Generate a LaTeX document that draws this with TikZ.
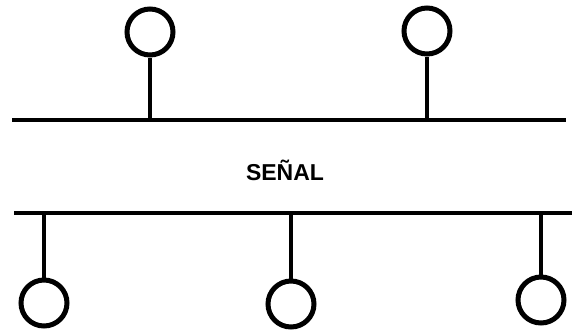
\documentclass[tikz,border=0pt]{standalone}
\usepackage{fontspec}
\setmainfont{Liberation Sans}
\begin{document}
\begin{tikzpicture}[x=1pt, y=-1pt, line width=4.5pt]
\tikzset{station/.style={circle, draw, line width=5pt, minimum size=46pt, inner sep=0pt}}
\useasboundingbox (0,0) rectangle (572,333);

% upper bus
\coordinate (ua) at (12,120);
\coordinate (ub) at (566,120);
\draw (ua) -- (ub);

% lower bus
\coordinate (la) at (14,213);
\coordinate (lb) at (572,213);
\draw (la) -- (lb);

\node[station] (t1) at (150,32) {};
\node[station] (t2) at (427,31) {};
\draw (t1) -- (t1 |- ua);
\draw (t2) -- (t2 |- ua);

\node[station] (b1) at (44,303) {};
\node[station] (b2) at (291,304) {};
\node[station] (b3) at (541,300) {};
\draw (b1) -- (b1 |- la);
\draw (b2) -- (b2 |- la);
\draw (b3) -- (b3 |- la);

\node[font=\bfseries\fontsize{23}{23}\selectfont] (lbl) at (285,170) {SEÑAL};
\end{tikzpicture}
\end{document}
